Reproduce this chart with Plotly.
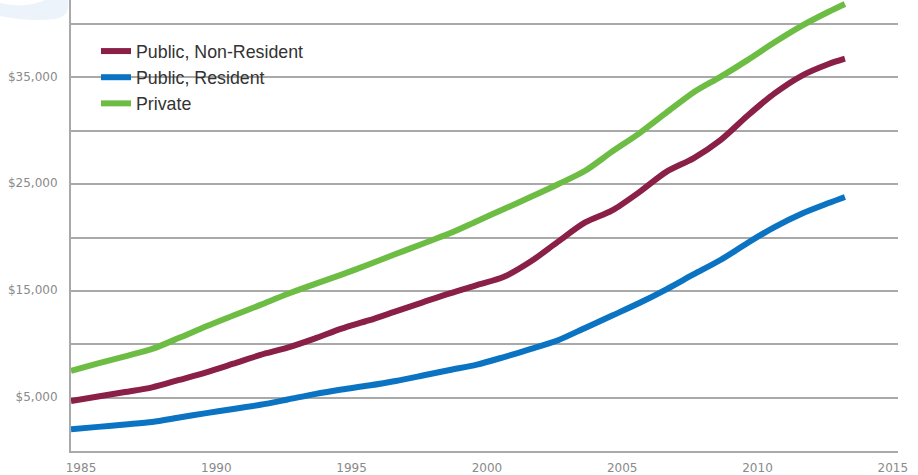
import plotly.graph_objects as go

# Average yearly tuition and fees, current dollars
YEARS = [1985, 1986, 1987, 1988, 1989, 1990, 1991, 1992, 1993, 1994,
         1995, 1996, 1997, 1998, 1999, 2000, 2001, 2002, 2003, 2004,
         2005, 2006, 2007, 2008, 2009, 2010, 2011, 2012, 2013, 2013.6]

PUBLIC_NON_RESIDENT = [4680, 5100, 5520, 5960, 6660, 7370, 8180, 9000, 9680, 10530,
                       11460, 12230, 13080, 13930, 14770, 15540, 16320, 17770, 19620, 21410,
                       22540, 24250, 26150, 27420, 29130, 31410, 33500, 35150, 36250, 36750]

PUBLIC_RESIDENT = [2030, 2260, 2490, 2720, 3140, 3550, 3940, 4330, 4820, 5330,
                   5760, 6130, 6560, 7070, 7590, 8090, 8800, 9560, 10380, 11530,
                   12690, 13860, 15150, 16540, 17890, 19490, 20980, 22230, 23230, 23800]

PRIVATE = [7500, 8200, 8870, 9560, 10600, 11680, 12690, 13690, 14710, 15630,
           16520, 17470, 18450, 19420, 20390, 21530, 22670, 23810, 24990, 26250,
           28050, 29760, 31690, 33590, 35050, 36620, 38290, 39830, 41150, 41880]

SERIES_NAMES = ["Public, Non-Resident", "Public, Resident", "Private"]
Y_TICKS = [5000, 15000, 25000, 35000]
Y_TICK_TEXT = ["$5,000", "$15,000", "$25,000", "$35,000"]
X_TICKS = [1985, 1990, 1995, 2000, 2005, 2010, 2015]

W, H = 918, 475
M_L, M_R, M_T, M_B = 71, 20, 0, 24
PW, PH = W - M_L - M_R, H - M_T - M_B


def px_x(x):
    return (x - M_L) / PW


def px_y(y):
    return (H - M_B - y) / PH


colors = ["#8a2047", "#0a73c2", "#6dbd45"]
fig = go.Figure()
for name, vals, col in zip(SERIES_NAMES, [PUBLIC_NON_RESIDENT, PUBLIC_RESIDENT, PRIVATE], colors):
    fig.add_trace(go.Scatter(
        x=YEARS, y=vals, name=name, mode="lines",
        line=dict(color=col, width=6, shape="spline", smoothing=0.8),
        hoverinfo="skip",
    ))

grid_col = "#a9a9a9"
tick_font = dict(family="DejaVu Sans", size=12, color="#8a8a8a")

fig.update_layout(
    width=W, height=H,
    margin=dict(l=M_L, r=M_R, t=M_T, b=M_B, autoexpand=False),
    paper_bgcolor="white", plot_bgcolor="white",
    showlegend=True,
    legend=dict(
        x=px_x(96), y=px_y(33), xanchor="left", yanchor="top",
        bgcolor="rgba(0,0,0,0)", borderwidth=0,
        font=dict(family="Liberation Sans", size=17.8, color="#333333"),
        itemwidth=30,
    ),
    xaxis=dict(
        range=[1985, 1985 + PW / 27.06], automargin=False,
        tickvals=X_TICKS, ticks="", showgrid=False, zeroline=False,
        showline=True, linecolor=grid_col, linewidth=2,
        tickfont=tick_font, ticklabelshift=10, ticklabelstandoff=5,
    ),
    yaxis=dict(
        range=[0, 42250], automargin=False,
        tickvals=Y_TICKS, ticktext=Y_TICK_TEXT, ticks="",
        showgrid=True, gridcolor=grid_col, gridwidth=1.6,
        minor=dict(tickvals=[10000, 20000, 30000, 40000], showgrid=True,
                   gridcolor=grid_col, gridwidth=1.6),
        zeroline=False, showline=True, linecolor=grid_col, linewidth=2,
        tickfont=tick_font, ticklabelstandoff=9, ticklabelshift=-1,
    ),
    shapes=[
        # white panel behind the legend
        dict(type="rect", xref="paper", yref="paper", layer="between",
             x0=px_x(86), x1=px_x(352), y0=px_y(118), y1=px_y(36),
             fillcolor="white", line=dict(width=0)),
        # pale decorative wave in the corner
        dict(type="path", xref="paper", yref="paper", layer="below",
             path=(f"M {px_x(0)},{px_y(3)} Q {px_x(25)},{px_y(9)} {px_x(45)},{px_y(0)} "
                   f"L {px_x(68)},{px_y(0)} Q {px_x(71)},{px_y(16)} {px_x(55)},{px_y(19)} "
                   f"Q {px_x(30)},{px_y(22)} {px_x(0)},{px_y(16)} Z"),
             fillcolor="#edf3fb", line=dict(width=0)),
    ],
)

fig.write_html("out.html")
